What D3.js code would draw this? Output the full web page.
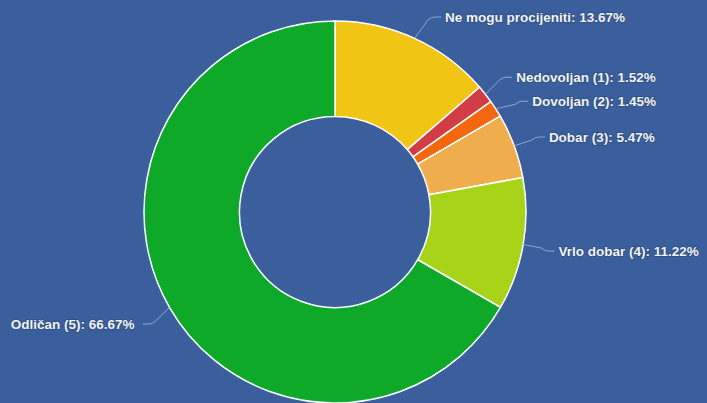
<!doctype html>
<html>
<head>
<meta charset="utf-8"/>
<title>Ocjene</title>
<script src="https://d3js.org/d3.v7.min.js"></script>
<style>
body { margin:0; background:#3a5f9c; }
</style>
</head>
<body>
<script type="text/javascript">
// podaci
var kategorije = ["Ne mogu procijeniti", "Nedovoljan (1)", "Dovoljan (2)", "Dobar (3)", "Vrlo dobar (4)", "Odličan (5)"];
var postotci = [13.67, 1.52, 1.45, 5.47, 11.22, 66.67];
var boje = ["#f0c514", "#d23c44", "#f4670f", "#efad4e", "#a7d418", "#0fa929"];

var sirina = 707, visina = 403;
var cx = 335, cy = 212;
var R = 191, r = 95.5;
var udaljenost = 30;

var svg = d3.select("body")
    .append("svg")
    .attr("width", sirina)
    .attr("height", visina);

svg.append("rect")
    .attr("width", sirina)
    .attr("height", visina)
    .attr("fill", "#3a5f9c");

var pie = d3.pie().sort(null).value(function(d){ return d; });
var arc = d3.arc().innerRadius(r).outerRadius(R);
var lukovi = pie(postotci);

var g = svg.append("g").attr("transform", "translate(" + cx + "," + cy + ")");

g.selectAll("path.kriska")
    .data(lukovi)
    .enter()
    .append("path")
    .attr("class", "kriska")
    .attr("d", arc)
    .attr("fill", function(d, i){ return boje[i]; })
    .attr("stroke", "#ffffff")
    .attr("stroke-width", 1.5)
    .attr("stroke-linejoin", "round");

//pozicije oznaka
var oznake = lukovi.map(function(d, i){
    var a = (d.startAngle + d.endAngle) / 2;
    return {
        i: i,
        a: a,
        desno: Math.sin(a) >= 0,
        ex: Math.sin(a) * R,
        ey: -Math.cos(a) * R,
        y: -Math.cos(a) * (R + udaljenost) + 1.5
    };
});

// jednostavno razmicanje oznaka na istoj strani
[true, false].forEach(function(strana){
    var s = oznake.filter(function(o){ return o.desno === strana; })
        .sort(function(a, b){ return a.y - b.y; });
    var minY = 17 - cy;
    s.forEach(function(o){
        if (o.y < minY) o.y = minY;
        minY = o.y + 24;
    });
});

oznake.forEach(function(o){
    var rr = R + udaljenost;
    var dy = Math.max(-rr, Math.min(rr, o.y));
    var x = Math.cos(Math.asin(dy / rr)) * rr;
    o.x = o.desno ? x : -x;
});

var konektori = g.append("g");
oznake.forEach(function(o){
    var smjer = o.desno ? 1 : -1;
    var kraj = o.x + smjer * 2;
    var lom = o.x - smjer * 8;
    var p = d3.path();
    p.moveTo(o.ex, o.ey);
    p.lineTo(lom - smjer * 3, o.y + (o.ey > o.y ? 3 : -3));
    p.quadraticCurveTo(lom, o.y, lom + smjer * 4, o.y);
    p.lineTo(kraj, o.y);
    konektori.append("path")
        .attr("d", p.toString())
        .attr("fill", "none")
        .attr("stroke", "#8fa9cf")
        .attr("stroke-width", 1);
});

g.selectAll("text.oznaka")
    .data(oznake)
    .enter()
    .append("text")
    .attr("class", "oznaka")
    .attr("x", function(o){ return o.x + (o.desno ? 6 : -10); })
    .attr("y", function(o){ return o.y; })
    .attr("dy", "0.35em")
    .attr("text-anchor", function(o){ return o.desno ? "start" : "end"; })
    .attr("font-family", "'Liberation Sans', Arial, sans-serif")
    .attr("font-size", "13.5px")
    .attr("font-weight", "bold")
    .attr("fill", "#f4f4f4")
    .attr("stroke", "rgba(20,40,80,0.35)")
    .attr("stroke-width", 1.5)
    .attr("paint-order", "stroke")
    .text(function(o){ return kategorije[o.i] + ": " + postotci[o.i].toFixed(2) + "%"; });
</script>
</body>
</html>
